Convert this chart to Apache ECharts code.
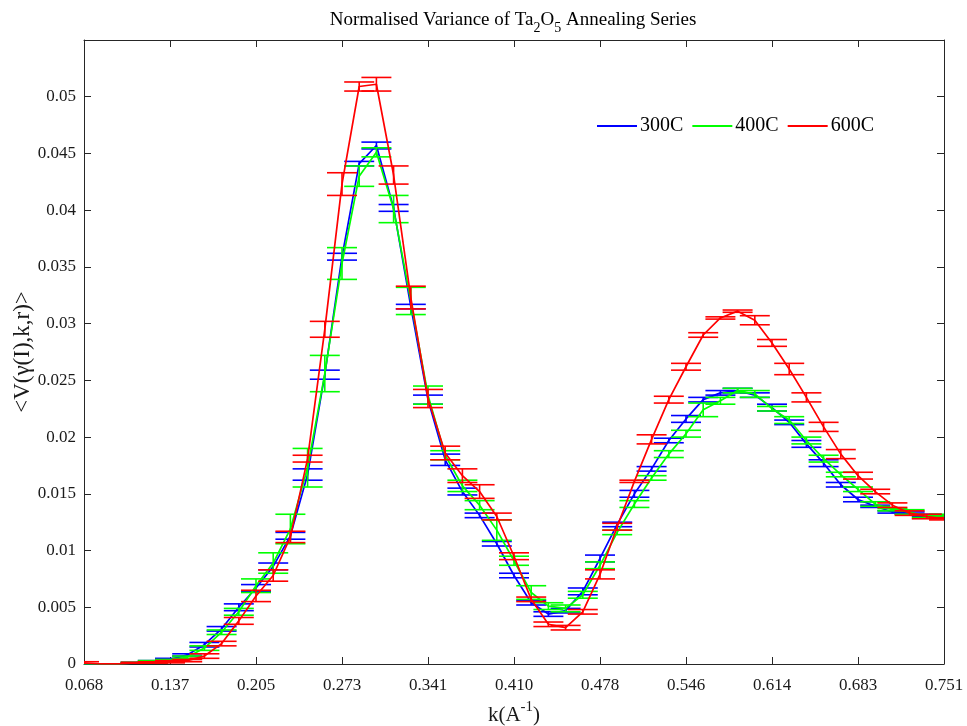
<!DOCTYPE html>
<html>
<head>
<meta charset="utf-8">
<script src="https://cdn.jsdelivr.net/npm/echarts@6/dist/echarts.min.js"></script>
<style>
html,body{margin:0;padding:0;background:#fff;}
#chart{width:967px;height:726px;}
</style>
</head>
<body>
<div id="chart"></div>
<script>
// ---- data ----
const kValues = [0.06828,0.08193,0.09559,0.10924,0.12290,0.13655,0.15021,0.16387,0.17752,0.19118,
  0.20483,0.21849,0.23214,0.24580,0.25945,0.27311,0.28676,0.30042,0.31407,0.32773,
  0.34139,0.35504,0.36870,0.38235,0.39601,0.40966,0.42332,0.43697,0.45063,0.46428,
  0.47794,0.49159,0.50525,0.51890,0.53256,0.54622,0.55987,0.57353,0.58718,0.60084,
  0.61449,0.62815,0.64180,0.65546,0.66911,0.68277,0.69643,0.71008,0.72374,0.73739,0.75105];

const xTickLabels = ['0.068','0.137','0.205','0.273','0.341','0.410','0.478','0.546','0.614','0.683','0.751'];

const v300 = [0,0,0,0.0001,0.0002,0.0004,0.0008,0.0017,0.0031,0.0050,
  0.0067,0.0086,0.0113,0.0167,0.0255,0.0359,0.0441,0.0457,0.0402,0.0315,
  0.0233,0.0180,0.0152,0.0131,0.0106,0.0078,0.0054,0.0044,0.0047,0.0064,
  0.0093,0.0123,0.0150,0.0172,0.0197,0.0216,0.0233,0.0239,0.0241,0.0237,
  0.0226,0.0213,0.0194,0.0177,0.0158,0.0145,0.0139,0.0134,0.0133,0.0131,0.0130];
const e300 = [0,0,0,0.00005,0.0001,0.0001,0.0001,0.0002,0.0002,0.0003,
  0.0003,0.0003,0.0003,0.0005,0.0004,0.0003,0.0002,0.0003,0.0003,0.0002,
  0.0004,0.0005,0.0003,0.0002,0.0002,0.0002,0.0002,0.0002,0.0002,0.0003,
  0.0003,0.0002,0.0003,0.0002,0.0002,0.0003,0.0002,0.0002,0.0002,0.0002,
  0.0003,0.0002,0.0003,0.0003,0.0002,0.0002,0.0001,0.0001,0.0001,0.0001,0.0001];

const v400 = [0,0,0,0.0001,0.0002,0.0003,0.0006,0.0014,0.0028,0.0046,
  0.0069,0.0089,0.0119,0.0173,0.0256,0.0353,0.0430,0.0451,0.0401,0.0320,
  0.0237,0.0184,0.0157,0.0140,0.0118,0.0091,0.0063,0.0051,0.0049,0.0061,
  0.0087,0.0116,0.0141,0.0164,0.0185,0.0203,0.0224,0.0232,0.0241,0.0238,
  0.0225,0.0215,0.0197,0.0181,0.0167,0.0154,0.0141,0.0136,0.0134,0.0130,0.0131];
const e400 = [0,0,0,0.00005,0.0001,0.0001,0.0001,0.0002,0.0002,0.0003,
  0.0006,0.0009,0.0013,0.0017,0.0016,0.0014,0.0009,0.0004,0.0012,0.0012,
  0.0008,0.0004,0.0005,0.0004,0.0009,0.0004,0.0006,0.0003,0.0003,0.0003,
  0.0003,0.0002,0.0003,0.0002,0.0003,0.0003,0.0006,0.0003,0.0002,0.0003,
  0.0002,0.0003,0.0003,0.0003,0.0002,0.0002,0.0002,0.0001,0.0002,0.0001,0.0001];

const v600 = [0.0001,0,0,0.0001,0.0001,0.0002,0.0003,0.0007,0.0018,0.0038,
  0.0060,0.0078,0.0112,0.0181,0.0295,0.0423,0.0509,0.0511,0.0431,0.0323,
  0.0234,0.0186,0.0166,0.0152,0.0130,0.0095,0.0057,0.0035,0.0032,0.0046,
  0.0079,0.0121,0.0161,0.0198,0.0233,0.0262,0.0290,0.0305,0.0311,0.0303,
  0.0283,0.0260,0.0235,0.0209,0.0185,0.0166,0.0152,0.0140,0.0133,0.0130,0.0128];
const e600 = [0.0001,0,0,0.00005,0.0001,0.0001,0.0001,0.0002,0.0002,0.0003,
  0.0005,0.0005,0.0005,0.0003,0.0007,0.0010,0.0004,0.0006,0.0008,0.0010,
  0.0008,0.0006,0.0006,0.0006,0.0003,0.0003,0.0002,0.0002,0.0002,0.0002,
  0.0004,0.0003,0.0001,0.0004,0.0003,0.0003,0.0002,0.0001,0.0001,0.0004,
  0.0003,0.0005,0.0004,0.0004,0.0004,0.0003,0.0002,0.0002,0.0002,0.0002,0.0001];

const seriesNames = ['300C','400C','600C'];
const seriesColors = ['#0000FF','#00FF00','#FF0000'];
const seriesValues = [v300, v400, v600];
const seriesErrors = [e300, e400, e600];

// ---- chart ----
const FONT = '"Liberation Serif", "Times New Roman", serif';
const AX = '#262626';
const xMin = 0.068277, xInterval = 0.068277, xMax = 0.751047;

function errRender(color) {
  return function (params, api) {
    const x = api.value(0), y = api.value(1), e = api.value(2);
    const t = api.coord([x, y + e]);
    const b = api.coord([x, y - e]);
    const hw = 15;
    const st = { stroke: color, lineWidth: 1.6 };
    return {
      type: 'group',
      children: [
        { type: 'line', shape: { x1: t[0], y1: t[1], x2: b[0], y2: b[1] }, style: st },
        { type: 'line', shape: { x1: t[0] - hw, y1: t[1], x2: t[0] + hw, y2: t[1] }, style: st },
        { type: 'line', shape: { x1: b[0] - hw, y1: b[1], x2: b[0] + hw, y2: b[1] }, style: st }
      ]
    };
  };
}

const series = [];
seriesNames.forEach((name, s) => {
  const vals = seriesValues[s], errs = seriesErrors[s];
  series.push({
    name: name,
    type: 'line',
    data: kValues.map((k, i) => [k, vals[i]]),
    showSymbol: false,
    symbol: 'none',
    lineStyle: { color: seriesColors[s], width: 1.7 },
    itemStyle: { color: seriesColors[s] },
    z: 3 + s * 2,
    animation: false
  });
  series.push({
    name: name + ' err',
    type: 'custom',
    renderItem: errRender(seriesColors[s]),
    data: kValues.map((k, i) => [k, vals[i], errs[i]]),
    clip: true,
    z: 4 + s * 2,
    animation: false
  });
});

const chart = echarts.init(document.getElementById('chart'), null, { renderer: 'canvas' });
chart.setOption({
  animation: false,
  backgroundColor: '#fff',
  grid: { left: 84, right: 23, top: 40, bottom: 62, containLabel: false, outerBoundsMode: 'none' },
  graphic: [{
    type: 'text',
    x: 513, y: 20,
    style: {
      text: 'Normalised Variance of Ta{sub|2}O{sub|5} Annealing Series',
      fontFamily: FONT, fontSize: 19,
      fill: '#000',
      align: 'center', verticalAlign: 'middle',
      lineHeight: 30,
      rich: { sub: { fontSize: 14, fontFamily: FONT, lineHeight: 14, verticalAlign: 'bottom', fill: '#000' } }
    }
  }],
  legend: {
    data: seriesNames.map(n => ({ name: n, icon: 'rect' })),
    left: 597, top: 116, padding: 0,
    itemWidth: 40, itemHeight: 2, itemGap: 9,
    textStyle: { fontFamily: FONT, fontSize: 20, color: '#000', padding: [0, 0, 0, -2] }
  },
  xAxis: [{
    type: 'value', min: xMin, max: xMax, interval: xInterval,
    position: 'bottom',
    axisLine: { show: true, onZero: false, lineStyle: { color: AX, width: 1 } },
    axisTick: { show: true, inside: true, length: 7, lineStyle: { color: AX } },
    splitLine: { show: false },
    axisLabel: {
      fontFamily: FONT, fontSize: 17, color: '#1a1a1a', margin: 13,
      formatter: function (v) { const i = Math.round((v - xMin) / xInterval) ; return xTickLabels[i] !== undefined ? xTickLabels[i] : ''; }
    },
    name: 'k(A{sup|-1})',
    nameLocation: 'middle', nameGap: 36,
    nameMoveOverlap: false,
    nameTextStyle: {
      fontFamily: FONT, fontSize: 21, color: '#1a1a1a', lineHeight: 30,
      rich: { sup: { fontSize: 15, fontFamily: FONT, lineHeight: 15, verticalAlign: 'top', color: '#1a1a1a' } }
    }
  }, {
    type: 'value', min: xMin, max: xMax, interval: xInterval,
    position: 'top',
    axisLine: { show: true, onZero: false, lineStyle: { color: AX, width: 1 } },
    axisTick: { show: true, inside: true, length: 7, lineStyle: { color: AX } },
    axisLabel: { show: false }, splitLine: { show: false }
  }],
  yAxis: [{
    type: 'value', min: 0, max: 0.055, interval: 0.005,
    position: 'left',
    axisLine: { show: true, onZero: false, lineStyle: { color: AX, width: 1 } },
    axisTick: { show: true, inside: true, length: 7, lineStyle: { color: AX } },
    splitLine: { show: false },
    axisLabel: {
      fontFamily: FONT, fontSize: 17, color: '#1a1a1a', margin: 8,
      showMaxLabel: false,
      formatter: function (v) { return String(+v.toFixed(4)); }
    },
    name: '<V(\u03b3(I),k,r)>',
    nameLocation: 'middle', nameGap: 50,
    nameMoveOverlap: false,
    nameTextStyle: { fontFamily: FONT, fontSize: 23, color: '#1a1a1a' }
  }, {
    type: 'value', min: 0, max: 0.055, interval: 0.005,
    position: 'right',
    axisLine: { show: true, onZero: false, lineStyle: { color: AX, width: 1 } },
    axisTick: { show: true, inside: true, length: 7, lineStyle: { color: AX } },
    axisLabel: { show: false }, splitLine: { show: false }
  }],
  series: series
});
</script>
</body>
</html>
